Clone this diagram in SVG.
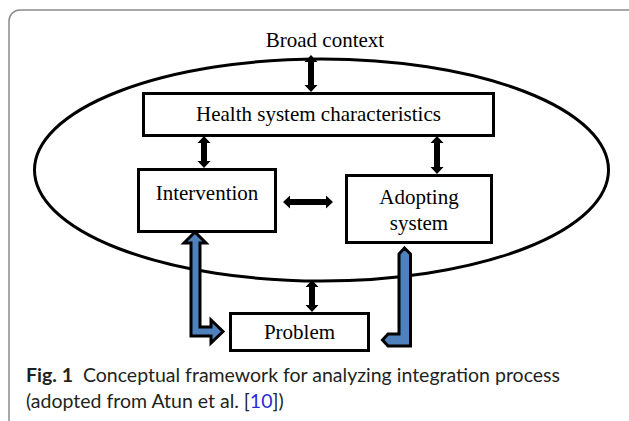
<svg xmlns="http://www.w3.org/2000/svg" width="629" height="421" viewBox="0 0 629 421">
<style>
.box{fill:#fff;stroke:#000;stroke-width:3}
.lbl{font-family:"Liberation Serif","Times New Roman",serif;font-size:21px;fill:#000;text-anchor:middle}
.dbl{fill:#000}
.blue{fill:#4f81bd;stroke:#000;stroke-width:3;stroke-linejoin:miter}
.cap{font-family:Lato,"Open Sans",sans-serif;font-size:19.5px;fill:#231f20}
</style>
<rect x="9" y="10" width="640" height="420" rx="11" ry="11" fill="#fff" stroke="#8c8c8c" stroke-width="1.5"/>
<g id="context">
<ellipse cx="321.5" cy="170" rx="287" ry="111" fill="none" stroke="#000" stroke-width="3"/>
<text class="lbl" x="325" y="47">Broad context</text>
</g>
<g id="health">
<rect class="box" x="143.5" y="93.5" width="350" height="42"/>
<text class="lbl" x="318.5" y="121">Health system characteristics</text>
</g>
<g id="intervention">
<rect class="box" x="138.5" y="169.5" width="137" height="62"/>
<text class="lbl" x="207" y="200">Intervention</text>
</g>
<g id="adopting">
<rect class="box" x="346.5" y="175.5" width="145" height="67"/>
<text class="lbl" x="419" y="204">Adopting</text>
<text class="lbl" x="419" y="230">system</text>
</g>
<g id="problem">
<rect class="box" x="230.5" y="313.5" width="138" height="37"/>
<text class="lbl" x="299.5" y="339">Problem</text>
</g>
<g id="connectors">
<polygon class="dbl" points="311,55 317.5,62 314,62 314,85 317.5,85 311,92 304.5,85 308,85 308,62 304.5,62"/>
<polygon class="dbl" points="204,136 210.5,143 207,143 207,161 210.5,161 204,168 197.5,161 201,161 201,143 197.5,143"/>
<polygon class="dbl" points="437,136 443.5,143 440,143 440,167 443.5,167 437,174 430.5,167 434,167 434,143 430.5,143"/>
<polygon class="dbl" points="283,202 290,195.5 290,199 326,199 326,195.5 333,202 326,208.5 326,205 290,205 290,208.5"/>
<polygon class="dbl" points="312,280 318.5,287 315,287 315,305 318.5,305 312,312 305.5,305 309,305 309,287 305.5,287"/>
<polygon class="blue" points="195,232 206,243 200,243 200,327 211,327 211,320 223,331.5 211,343 211,336 191,336 191,243 184,243"/>
<polygon class="blue" points="404.5,248 410.5,254 410.5,346 388,346 382.5,340 388,334 399,334 399,254"/>
</g>
<g id="caption">
<text class="cap" x="26" y="382"><tspan font-weight="bold">Fig. 1</tspan><tspan dx="10">Conceptual framework for analyzing integration process</tspan></text>
<text class="cap" x="26" y="408">(adopted from Atun et al. [<tspan fill="#2b2bd9">10</tspan>])</text>
</g>
</svg>
